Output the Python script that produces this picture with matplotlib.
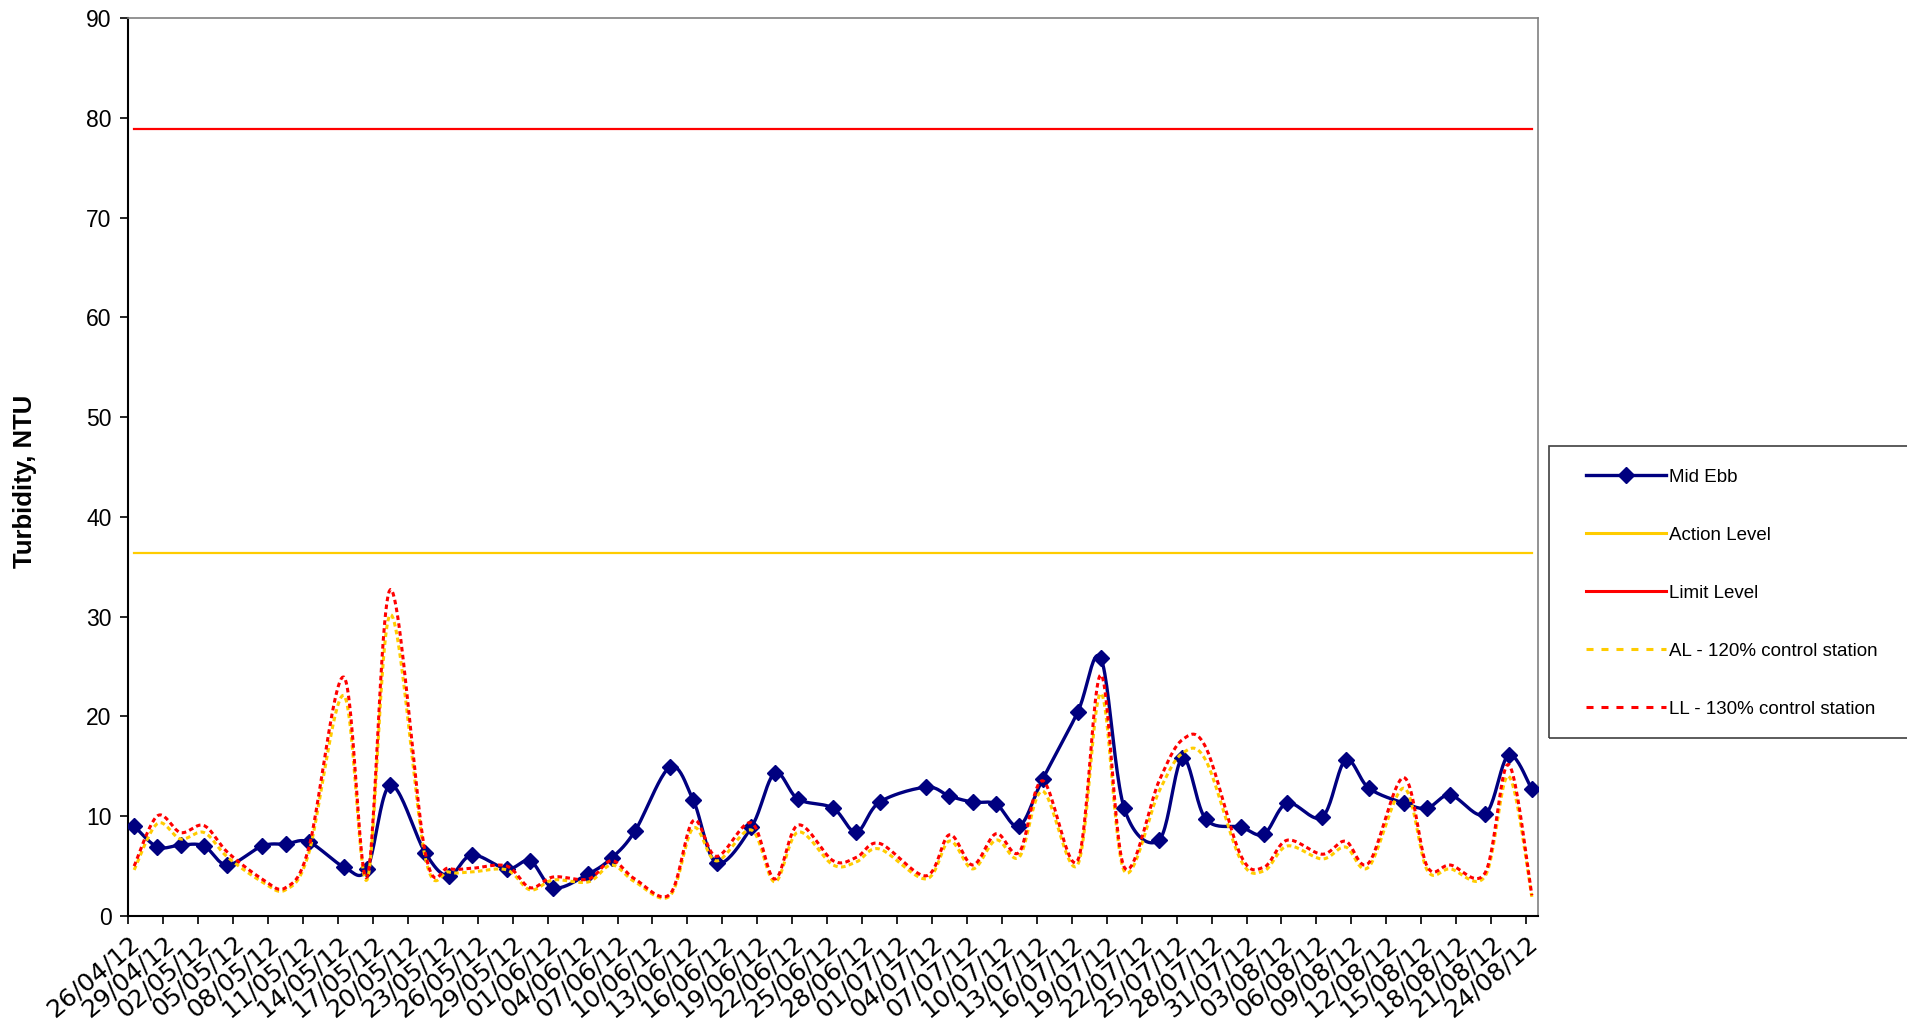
import numpy as np
import pandas as pd
import matplotlib
matplotlib.use("Agg")
import matplotlib.pyplot as plt
from matplotlib.lines import Line2D
from matplotlib.patches import Rectangle

plt.rcParams['font.family'] = ['Liberation Sans', 'DejaVu Sans']

# sampling dates and readings
dates = ["26/04/12", "28/04/12", "30/04/12", "02/05/12", "04/05/12", "07/05/12", "09/05/12",
         "11/05/12", "14/05/12", "16/05/12", "18/05/12", "21/05/12", "23/05/12", "25/05/12",
         "28/05/12", "30/05/12", "01/06/12", "04/06/12", "06/06/12", "08/06/12", "11/06/12",
         "13/06/12", "15/06/12", "18/06/12", "20/06/12", "22/06/12", "25/06/12", "27/06/12",
         "29/06/12", "03/07/12", "05/07/12", "07/07/12", "09/07/12", "11/07/12", "13/07/12",
         "16/07/12", "18/07/12", "20/07/12", "23/07/12", "25/07/12", "27/07/12", "30/07/12",
         "01/08/12", "03/08/12", "06/08/12", "08/08/12", "10/08/12", "13/08/12", "15/08/12",
         "17/08/12", "20/08/12", "22/08/12", "24/08/12"]
mid_ebb = [9.0, 6.9, 7.1, 7.0, 5.1, 7.0, 7.2, 7.4, 4.9, 4.7, 13.1, 6.3, 4.0, 6.1, 4.7,
           5.5, 2.8, 4.2, 5.8, 8.5, 14.9, 11.6, 5.3, 8.9, 14.3, 11.7, 10.8, 8.4, 11.4,
           12.9, 12.0, 11.4, 11.2, 9.0, 13.7, 20.4, 25.8, 10.8, 7.6, 15.8, 9.7, 8.9, 8.2,
           11.3, 9.9, 15.6, 12.8, 11.3, 10.8, 12.1, 10.2, 16.1, 12.7]
al_control = [4.6, 9.25, 7.7, 8.35, 5.9, 3.4, 2.6, 6.3, 22.1, 3.6, 30.2, 5.8, 4.4, 4.4, 4.6,
              2.6, 3.6, 3.4, 5.1, 3.4, 2.0, 8.8, 5.5, 8.6, 3.4, 8.4, 5.1, 5.4, 6.7,
              3.7, 7.5, 4.7, 7.6, 5.9, 12.5, 5.1, 22.3, 4.5, 12.5, 16.3, 15.6, 5.6, 4.5,
              7.0, 5.7, 6.9, 4.9, 12.8, 4.6, 4.7, 4.0, 14.0, 1.9]
ll_control = [v * 130 / 120 for v in al_control]
action_level = 36.4
limit_level = 78.9

tick_labels = ["26/04/12", "29/04/12", "02/05/12", "05/05/12", "08/05/12", "11/05/12",
               "14/05/12", "17/05/12", "20/05/12", "23/05/12", "26/05/12", "29/05/12",
               "01/06/12", "04/06/12", "07/06/12", "10/06/12", "13/06/12", "16/06/12",
               "19/06/12", "22/06/12", "25/06/12", "28/06/12", "01/07/12", "04/07/12",
               "07/07/12", "10/07/12", "13/07/12", "16/07/12", "19/07/12", "22/07/12",
               "25/07/12", "28/07/12", "31/07/12", "03/08/12", "06/08/12", "09/08/12",
               "12/08/12", "15/08/12", "18/08/12", "21/08/12", "24/08/12"]

start = pd.to_datetime(dates[0], format="%d/%m/%y")
x = np.array([(pd.to_datetime(d, format="%d/%m/%y") - start).days for d in dates]) + 0.5
xt = np.array([(pd.to_datetime(d, format="%d/%m/%y") - start).days for d in tick_labels])


def smooth(xs, ys, n=24):
    # excel-like smoothed line (catmull-rom bezier)
    xs = np.asarray(xs, float); ys = np.asarray(ys, float)
    px = np.concatenate([[xs[0]], xs, [xs[-1]]])
    py = np.concatenate([[ys[0]], ys, [ys[-1]]])
    t = np.linspace(0, 1, n)[:, None]
    out = []
    for i in range(len(xs) - 1):
        p0 = np.array([px[i], py[i]]); p1 = np.array([px[i+1], py[i+1]])
        p2 = np.array([px[i+2], py[i+2]]); p3 = np.array([px[i+3], py[i+3]])
        c1 = p1 + (p2 - p0) / 6
        c2 = p2 - (p3 - p1) / 6
        seg = (1-t)**3*p1 + 3*(1-t)**2*t*c1 + 3*(1-t)*t**2*c2 + t**3*p2
        out.append(seg if i == 0 else seg[1:])
    out = np.vstack(out)
    return out[:, 0], out[:, 1]


navy = "#000080"; gold = "#FFCC00"; red = "#FF0000"

fig = plt.figure(figsize=(19.07, 10.33), dpi=100)
ax = fig.add_axes([128.3/1907, 117.2/1033, 1409.4/1907, 897.6/1033])

sx, sy = smooth(x, mid_ebb)
ax.plot(sx, sy, color=navy, lw=2.4, zorder=3)
ax.plot(x, mid_ebb, ls="none", marker="D", ms=8.3, color=navy, zorder=4)
ax.plot([x[0], x[-1]], [action_level]*2, color=gold, lw=1.6, zorder=3)
ax.plot([x[0], x[-1]], [limit_level]*2, color=red, lw=1.6, zorder=3)
ax.plot(*smooth(x, al_control), color=gold, lw=2.2, dashes=(1.5, 1.1), zorder=5)
ax.plot(*smooth(x, ll_control), color=red, lw=2.2, dashes=(1.5, 1.1), zorder=5)

ax.set_xlim(0, 121)
ax.set_ylim(0, 90)
ax.set_yticks(np.arange(0, 91, 10))
ax.set_xticks(xt)
ax.set_xticklabels(tick_labels, rotation=40, ha="right", va="top", rotation_mode="anchor",
                   fontsize=18, fontfamily="DejaVu Sans")
ax.tick_params(axis="y", labelsize=16.5, length=6, width=1.2, direction="out", pad=6)
ax.tick_params(axis="x", length=6, width=1.2, direction="out", pad=5)
ax.set_ylabel("Turbidity, NTU", fontsize=18.5, fontweight="bold")
ax.yaxis.set_label_coords(-0.0651, 0.484)
for s in ["left", "bottom"]:
    ax.spines[s].set_linewidth(1.5)
    ax.spines[s].set_color("black")
for s in ["top", "right"]:
    ax.spines[s].set_linewidth(1.2)
    ax.spines[s].set_color("#808080")

# legend box runs past the right edge of the picture
fig.patches.append(Rectangle((1549/1907, 1 - 738/1033), 0.2, (738-446)/1033,
                             transform=fig.transFigure, fill=False, ec="#404040", lw=1.2))
handles = [Line2D([], [], color=navy, lw=2.4, marker="D", ms=8.3),
           Line2D([], [], color=gold, lw=2.2),
           Line2D([], [], color=red, lw=2.2),
           Line2D([], [], color=gold, lw=2.2, dashes=(2.3, 2.6)),
           Line2D([], [], color=red, lw=2.2, dashes=(2.3, 2.6))]
labels = ["Mid Ebb", "Action Level", "Limit Level", "AL - 120% control station",
          "LL - 130% control station"]
fig.legend(handles, labels, loc="upper left", bbox_to_anchor=(1586/1907, 1 - 468.5/1033),
           frameon=False, fontsize=13.5, handlelength=4.25, handletextpad=0.2,
           labelspacing=2.18, borderpad=0, borderaxespad=0, numpoints=1)

fig.savefig("out.png", dpi=100)
